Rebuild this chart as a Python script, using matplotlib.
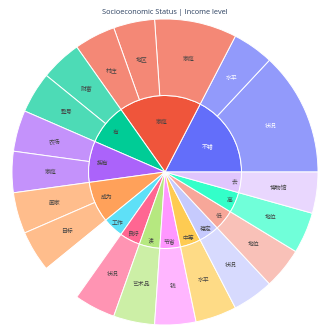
import colorsys
import matplotlib
matplotlib.use("Agg")
import matplotlib.pyplot as plt
import numpy as np

# ---- data ----
title = "Socioeconomic Status | Income level"
parents = ['不错', '家庭', '有', '拥有', '成为', '工作', '良好', '读', '节省', '中等', '稳定', '低', '高', '去']
children = [
    ['状况', '水平'],
    ['家庭', '地区', '村庄'],
    ['财富', '整号'],
    ['农场', '家庭'],
    ['画家', '目标'],
    [],
    ['状况'],
    ['艺术品'],
    ['钱'],
    ['水平'],
    ['状况'],
    ['地位'],
    ['地位'],
    ['博物馆'],
]
child_values = [
    [3, 1],
    [2, 1, 1],
    [1, 1],
    [1, 1],
    [1, 1],
    [],
    [1],
    [1],
    [1],
    [1],
    [1],
    [1],
    [1],
    [1],
]
own_values = [0, 0, 0, 0, 0, 1, 0, 0, 0, 0, 0, 0, 0, 0]

# ---- style ----
colorway = ['#636efa', '#EF553B', '#00cc96', '#ab63fa', '#FFA15A',
            '#19d3f3', '#FF6692', '#B6E880', '#FF97FF', '#FECB52']

def hex2rgb(h):
    h = h.lstrip('#')
    return tuple(int(h[i:i + 2], 16) / 255 for i in (0, 2, 4))

def lighten(rgb, amt=0.2):
    hh, ll, ss = colorsys.rgb_to_hls(*rgb)
    return colorsys.hls_to_rgb(hh, min(1, ll + amt), ss)

ext = [hex2rgb(c) for c in colorway] + [lighten(hex2rgb(c)) for c in colorway]

def blend(rgb, a=0.7):
    return tuple(a * c + (1 - a) for c in rgb)

def txtcol(rgb):
    r, g, b = [c * 255 for c in rgb]
    br = (r * 299 + g * 587 + b * 114) / 1000
    return '#444444' if br > 128 else 'white'

plt.rcParams['font.family'] = ['Noto Sans CJK SC', 'DejaVu Sans']

W = 330
fig = plt.figure(figsize=(3.3, 3.3), dpi=100)
cx, cy, R = 165, 172, 153
ax = fig.add_axes([(cx - R) / W, (W - cy - R) / W, 2 * R / W, 2 * R / W])

parent_vals = [sum(cv) + ov for cv, ov in zip(child_values, own_values)]
base_cols = [ext[i % len(ext)] for i in range(len(parents))]
inner_cols = [blend(c) if not children[i] else c for i, c in enumerate(base_cols)]

r1 = 0.5
ax.pie(parent_vals, radius=r1, startangle=0, counterclock=True, colors=inner_cols,
       wedgeprops=dict(edgecolor='white', linewidth=0.7))

outer_vals, outer_cols, outer_lab, outer_tc = [], [], [], []
for i, (cn, cv) in enumerate(zip(children, child_values)):
    if cn:
        for n, v in zip(cn, cv):
            outer_vals.append(v)
            outer_cols.append(blend(base_cols[i]))
            outer_lab.append(n)
            outer_tc.append(txtcol(base_cols[i]))
    else:
        outer_vals.append(own_values[i])
        outer_cols.append((1, 1, 1, 0))
        outer_lab.append('')
        outer_tc.append('none')

ax.pie(outer_vals, radius=1.0, startangle=0, counterclock=True, colors=outer_cols,
       wedgeprops=dict(width=0.5, edgecolor='white', linewidth=0.7))

ax.set_xlim(-1, 1)
ax.set_ylim(-1, 1)
ax.set_aspect('equal')
ax.axis('off')

total = sum(parent_vals)
fs = 4.2
a0 = 0
for i, v in enumerate(parent_vals):
    span = v / total * 360
    mid = np.deg2rad(a0 + span / 2)
    rr = r1 * (1 - 0.0055 * span)
    ax.text(rr * np.cos(mid), rr * np.sin(mid), parents[i], ha='center', va='center',
            fontsize=fs, color=txtcol(base_cols[i]))
    a0 += span

a0 = 0
for v, lab, tc in zip(outer_vals, outer_lab, outer_tc):
    span = v / total * 360
    mid = np.deg2rad(a0 + span / 2)
    if lab:
        ax.text(0.75 * np.cos(mid), 0.75 * np.sin(mid), lab, ha='center', va='center',
                fontsize=fs, color=tc)
    a0 += span

fig.text(0.5, 1 - 12.5 / W, title, ha='center', va='center', fontsize=5.3,
         color='#2a3f5f', family=['Open Sans', 'DejaVu Sans'])

fig.savefig('out.png', dpi=100, facecolor='white')
